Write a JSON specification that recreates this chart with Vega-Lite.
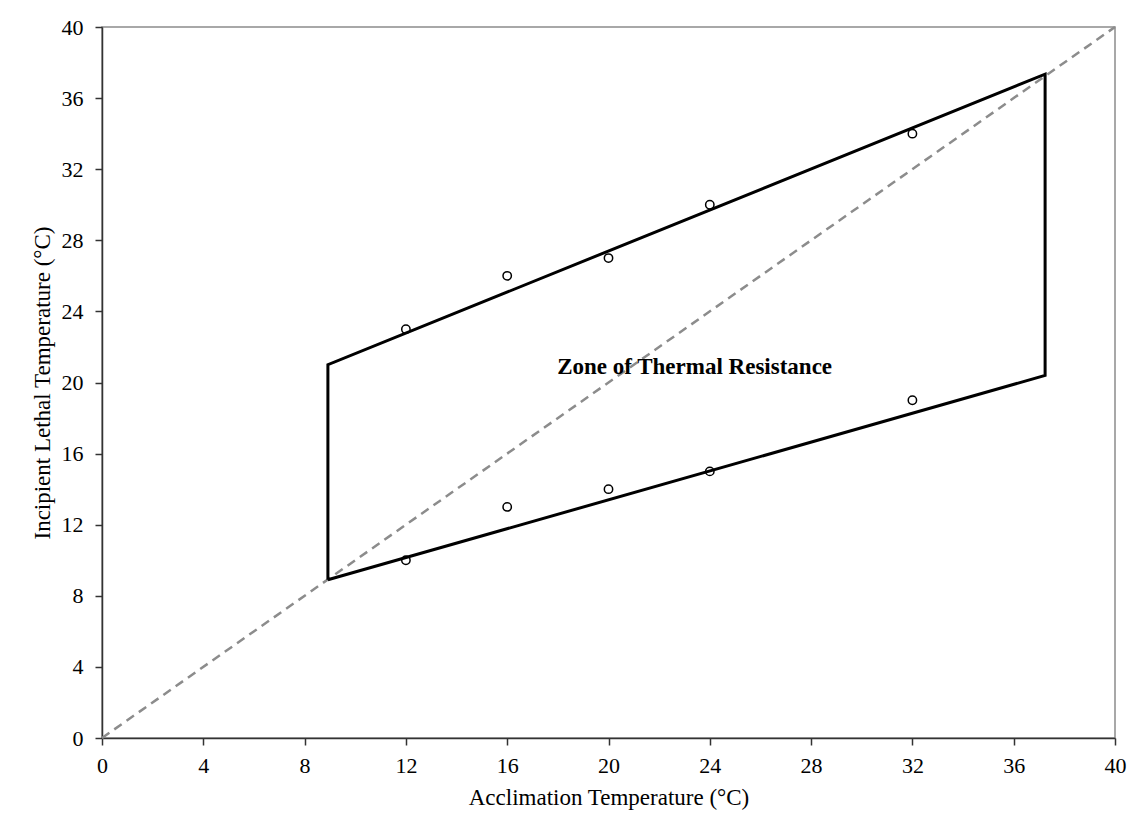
{
  "$schema": "https://vega.github.io/schema/vega-lite/v6.json",
  "width": 1013,
  "height": 711,
  "autosize": "none",
  "padding": {"left": 102, "top": 27, "right": 23, "bottom": 91},
  "background": "white",
  "config": {
    "view": {"stroke": "#8c8c8c", "strokeWidth": 1.5},
    "font": "Liberation Serif",
    "axis": {
      "labelFont": "Liberation Serif",
      "titleFont": "Liberation Serif",
      "labelFontSize": 22,
      "titleFontSize": 23,
      "titleFontWeight": "normal",
      "labelColor": "#000",
      "titleColor": "#000",
      "domainColor": "#333",
      "domainWidth": 1.5,
      "tickColor": "#333",
      "tickWidth": 1.5,
      "tickSize": 7,
      "labelFlush": false,
      "labelOverlap": false,
      "grid": false
    }
  },
  "datasets": {
    "diag": [{"x": 0, "y": 0}, {"x": 40, "y": 40}],
    "poly": [
      {"x": 8.92, "y": 8.9, "o": 1},
      {"x": 8.92, "y": 21.0, "o": 2},
      {"x": 37.24, "y": 37.35, "o": 3},
      {"x": 37.24, "y": 20.4, "o": 4},
      {"x": 8.92, "y": 8.9, "o": 5}
    ],
    "pts": [
      {"x": 12, "y": 23}, {"x": 16, "y": 26}, {"x": 20, "y": 27}, {"x": 24, "y": 30}, {"x": 32, "y": 34},
      {"x": 12, "y": 10}, {"x": 16, "y": 13}, {"x": 20, "y": 14}, {"x": 24, "y": 15}, {"x": 32, "y": 19}
    ],
    "lab": [{"x": 23.4, "y": 20.85, "t": "Zone of Thermal Resistance"}]
  },
  "layer": [
    {
      "data": {"name": "diag"},
      "mark": {"type": "line", "color": "#8c8c8c", "strokeWidth": 2.5, "strokeDash": [9, 6]},
      "encoding": {
        "x": {"field": "x", "type": "quantitative", "scale": {"domain": [0, 40], "nice": false},
          "axis": {"values": [0,4,8,12,16,20,24,28,32,36,40], "title": "Acclimation Temperature (°C)", "labelPadding": 10, "titlePadding": 10}},
        "y": {"field": "y", "type": "quantitative", "scale": {"domain": [0, 40], "nice": false},
          "axis": {"values": [0,4,8,12,16,20,24,28,32,36,40], "title": "Incipient Lethal Temperature (°C)", "labelPadding": 12, "titlePadding": 7}}
      }
    },
    {
      "data": {"name": "poly"},
      "mark": {"type": "line", "color": "#000", "strokeWidth": 3, "strokeJoin": "miter"},
      "encoding": {
        "x": {"field": "x", "type": "quantitative"},
        "y": {"field": "y", "type": "quantitative"},
        "order": {"field": "o"}
      }
    },
    {
      "data": {"name": "pts"},
      "mark": {"type": "point", "shape": "circle", "filled": false, "color": "#000", "strokeWidth": 1.5, "size": 70, "opacity": 1},
      "encoding": {
        "x": {"field": "x", "type": "quantitative"},
        "y": {"field": "y", "type": "quantitative"}
      }
    },
    {
      "data": {"name": "lab"},
      "mark": {"type": "text", "font": "Liberation Serif", "fontWeight": "bold", "fontSize": 23, "color": "#000", "align": "center", "baseline": "middle"},
      "encoding": {
        "x": {"field": "x", "type": "quantitative"},
        "y": {"field": "y", "type": "quantitative"},
        "text": {"field": "t"}
      }
    }
  ]
}
